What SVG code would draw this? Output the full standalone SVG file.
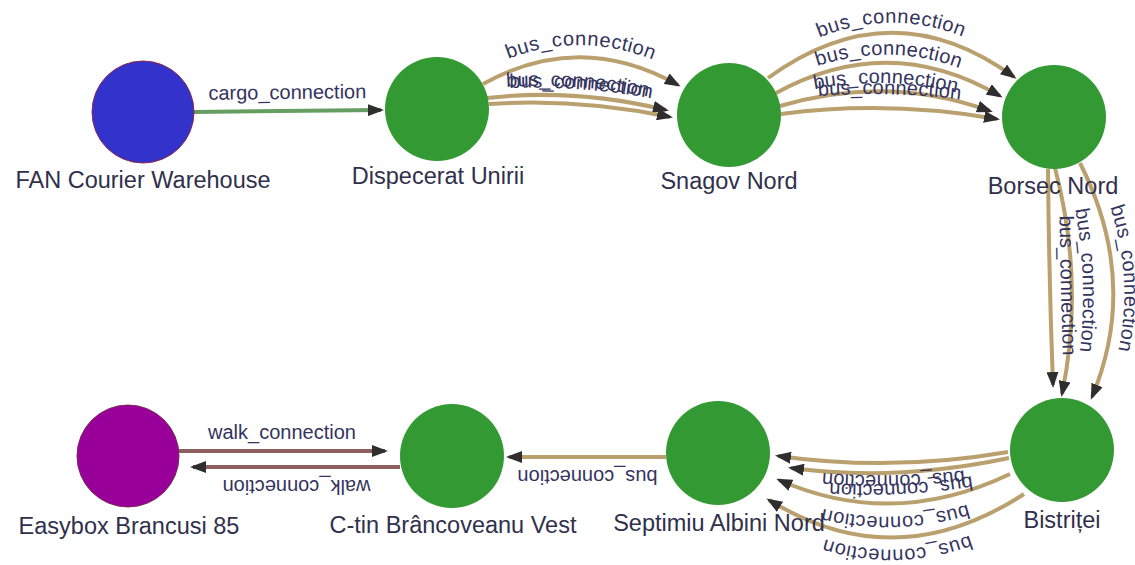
<svg xmlns="http://www.w3.org/2000/svg" width="1135" height="565" viewBox="0 0 1135 565">
  <style>
    .node-label { font-family: "Liberation Sans", Arial, sans-serif; font-size: 23.5px; fill: #30304c; text-anchor: middle; }
    .edge-label { font-family: "Liberation Sans", Arial, sans-serif; font-size: 20px; fill: #34345e; text-anchor: middle; }
    .edge { fill: none; stroke-width: 4; marker-end: url(#arrow); }
    .bus { stroke: #b9a06e; }
    .cargo { stroke: #669e62; }
    .walk { stroke: #8c5e5c; }
    .stop { fill: #339933; }
  </style>
  <defs>
    <marker id="arrow" markerUnits="userSpaceOnUse" markerWidth="16" markerHeight="12" refX="13" refY="6" orient="auto">
      <path d="M0,0 L16,6 L0,12 z" fill="#2e2e2e"/>
    </marker>
  </defs>

  <rect width="1135" height="565" fill="#ffffff"/>

  <!-- connectors -->
  <g id="edges">
    <path id="e-cargo" class="edge cargo" d="M194,112 L381,110"/>
    <path id="e-d1" class="edge bus" d="M483,84 Q580,30 678,85"/>
    <path id="e-d2" class="edge bus" d="M487,98 Q575,88 666,110"/>
    <path id="e-d3" class="edge bus" d="M489,104 Q578,98 670,117"/>
    <path id="e-s1" class="edge bus" d="M768,78 Q892,-12 1014,77"/>
    <path id="e-s2" class="edge bus" d="M776,93 Q889,31 1000,96"/>
    <path id="e-s3" class="edge bus" d="M780,106 Q888,74 990,111"/>
    <path id="e-s4" class="edge bus" d="M781,114 Q888,100 997,119"/>
    <path id="e-b1" class="edge bus" d="M1048,169 Q1049,280 1053,385"/>
    <path id="e-b2" class="edge bus" d="M1055,168 Q1085,283 1062,394"/>
    <path id="e-b3" class="edge bus" d="M1080,163 Q1140,282 1092,397"/>
    <path id="e-t1" class="edge bus" d="M1008,452 Q892,472 778,456"/>
    <path id="e-t2" class="edge bus" d="M1009,458 Q895,482 791,468"/>
    <path id="e-t3" class="edge bus" d="M1010,474 Q893,530 779,480"/>
    <path id="e-t4" class="edge bus" d="M1024,494 Q895,578 769,500"/>
    <path id="e-sc" class="edge bus" d="M666,457 L509,457"/>
    <path id="e-w1" class="edge walk" d="M179,451 L385,451"/>
    <path id="e-w2" class="edge walk" d="M400,467 L193,467"/>

    <text class="edge-label" dy="-12"><textPath href="#e-cargo" startOffset="50%">cargo_connection</textPath></text>
    <text class="edge-label" dy="-12"><textPath href="#e-d1" startOffset="50%">bus_connection</textPath></text>
    <text class="edge-label" dy="-9"><textPath href="#e-d2" startOffset="50%">bus_connection</textPath></text>
    <text class="edge-label" dy="-15"><textPath href="#e-d3" startOffset="50%">bus_connection</textPath></text>
    <text class="edge-label" dy="-10"><textPath href="#e-s1" startOffset="50%">bus_connection</textPath></text>
    <text class="edge-label" dy="-8"><textPath href="#e-s2" startOffset="50%">bus_connection</textPath></text>
    <text class="edge-label" dy="-8"><textPath href="#e-s3" startOffset="50%">bus_connection</textPath></text>
    <text class="edge-label" dy="-14"><textPath href="#e-s4" startOffset="50%">bus_connection</textPath></text>
    <text class="edge-label" dy="-11"><textPath href="#e-b1" startOffset="54%">bus_connection</textPath></text>
    <text class="edge-label" dy="-11"><textPath href="#e-b2" startOffset="50%">bus_connection</textPath></text>
    <text class="edge-label" dy="-11"><textPath href="#e-b3" startOffset="50%">bus_connection</textPath></text>
    <text class="edge-label" dy="-12"><textPath href="#e-t1" startOffset="50%">bus_connection</textPath></text>
    <text class="edge-label" dy="-11"><textPath href="#e-t2" startOffset="50%">bus_connection</textPath></text>
    <text class="edge-label" dy="-13"><textPath href="#e-t3" startOffset="50%">bus_connection</textPath></text>
    <text class="edge-label" dy="-12"><textPath href="#e-t4" startOffset="50%">bus_connection</textPath></text>
    <text class="edge-label" dy="-13"><textPath href="#e-sc" startOffset="50%">bus_connection</textPath></text>
    <text class="edge-label" dy="-12"><textPath href="#e-w1" startOffset="50%">walk_connection</textPath></text>
    <text class="edge-label" dy="-13"><textPath href="#e-w2" startOffset="50%">walk_connection</textPath></text>
  </g>

  <!-- nodes -->
  <g id="node-fan-courier-warehouse">
    <circle cx="143" cy="112" r="51" fill="#3333cc" stroke="#8a2a4a" stroke-width="1"/>
    <text class="node-label" x="143" y="188">FAN Courier Warehouse</text>
  </g>
  <g id="node-dispecerat-unirii">
    <circle class="stop" cx="437" cy="109" r="52"/>
    <text class="node-label" x="438" y="184">Dispecerat Unirii</text>
  </g>
  <g id="node-snagov-nord">
    <circle class="stop" cx="729" cy="115" r="52"/>
    <text class="node-label" x="729" y="189">Snagov Nord</text>
  </g>
  <g id="node-borsec-nord">
    <circle class="stop" cx="1054" cy="117" r="52"/>
    <text class="node-label" x="1053" y="194">Borsec Nord</text>
  </g>
  <g id="node-bistritei">
    <circle class="stop" cx="1062" cy="450" r="52"/>
    <text class="node-label" x="1062" y="528">Bistriței</text>
  </g>
  <g id="node-septimiu-albini-nord">
    <circle class="stop" cx="718" cy="453" r="52"/>
    <text class="node-label" x="719" y="531">Septimiu Albini Nord</text>
  </g>
  <g id="node-ctin-brancoveanu-vest">
    <circle class="stop" cx="452" cy="456" r="52"/>
    <text class="node-label" x="453" y="533">C-tin Brâncoveanu Vest</text>
  </g>
  <g id="node-easybox-brancusi-85">
    <circle cx="128" cy="456" r="51" fill="#990099" stroke="#7a2a5a" stroke-width="1"/>
    <text class="node-label" x="129" y="534">Easybox Brancusi 85</text>
  </g>
</svg>
